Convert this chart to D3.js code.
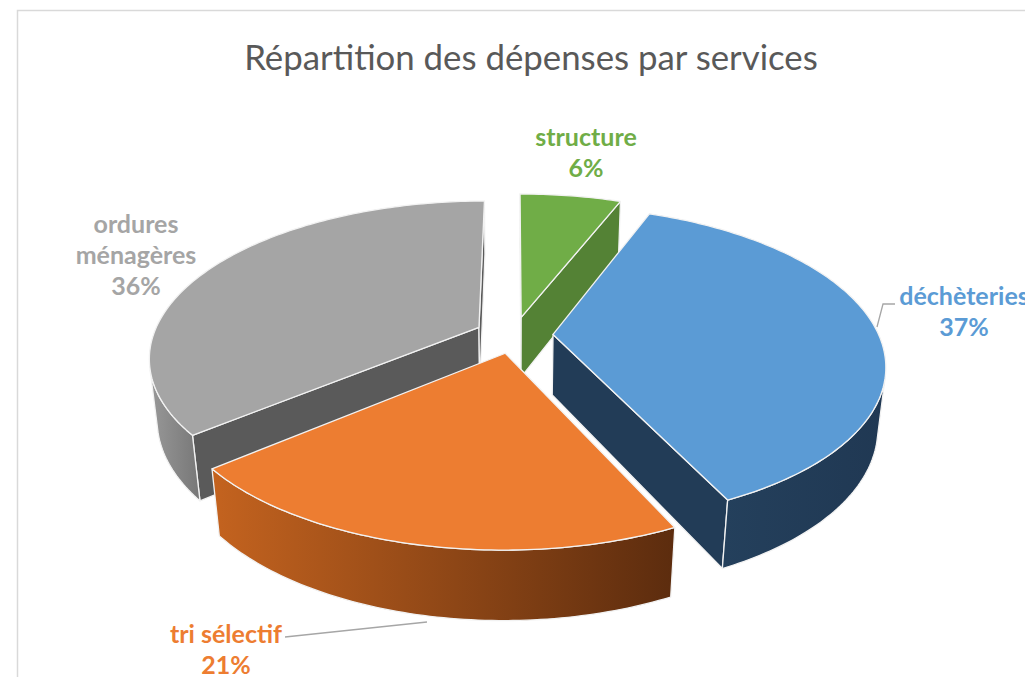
<!DOCTYPE html>
<html>
<head>
<meta charset="utf-8">
<script src="https://cdn.jsdelivr.net/npm/d3@7"></script>
<style>
  body { margin: 0; background: #fff; }
  svg { display: block; }
</style>
</head>
<body>
<div id="chart"></div>
<script>
// data
const categories = ["structure", "déchèteries", "tri sélectif", "ordures ménagères"];
const values = [6, 37, 21, 36];
const labelLines = [["structure", "6%"], ["déchèteries", "37%"], ["tri sélectif", "21%"], ["ordures", "ménagères", "36%"]];
const topColors = ["#70AD47", "#5B9BD5", "#ED7D31", "#A5A5A5"];
const faceColors = ["#548235", "#223C57", "#8a4519", "#5A5A5A"];
const wallColors = [["#5f8f3c", "#4d7630"], ["#24405c", "#203853"], ["#c4631f", "#5c2c0e"], ["#989898", "#777777"]];
const labelColors = ["#70AD47", "#5B9BD5", "#ED7D31", "#A5A5A5"];

const width = 1025, height = 677;

// 3D view settings
const alpha = 27.9 * Math.PI / 180;
const D = 4.74, f = 1544, R = 1, explode = 0.12, depth = 0.215;
const cx = 514, cy = 335;
const cam = [0, -D * Math.cos(alpha), D * Math.sin(alpha)];

function proj(u, v, w) {
    const yc = v * Math.sin(alpha) + w * Math.cos(alpha);
    const zc = D + v * Math.cos(alpha) - w * Math.sin(alpha);
    return [cx + f * u / zc, cy - f * yc / zc];
}

const svg = d3.select("#chart").append("svg")
    .attr("width", width)
    .attr("height", height);

const defs = svg.append("defs");

// chart border
svg.append("rect")
    .attr("x", 17.5).attr("y", 10.5)
    .attr("width", 1100).attr("height", 800)
    .attr("fill", "none")
    .attr("stroke", "#d9d9d9")
    .attr("stroke-width", 1.5);

svg.append("text")
    .attr("x", 531)
    .attr("y", 70)
    .attr("text-anchor", "middle")
    .attr("font-family", "Lato, 'Open Sans', sans-serif")
    .attr("font-size", 34.8)
    .attr("fill", "#595959")
    .text("Répartition des dépenses par services");

const pie = d3.pie().sort(null).value(d => d);
const arcs = pie(values);

const line = d3.line().curve(d3.curveLinearClosed);

function area(pts) {
    let s = 0;
    for (let i = 0; i < pts.length; i++) {
        const a = pts[i], b = pts[(i + 1) % pts.length];
        s += a[0] * b[1] - b[0] * a[1];
    }
    return s / 2;
}

const slices = arcs.map((d, i) => {
    const mid = (d.startAngle + d.endAngle) / 2;
    const ou = explode * Math.sin(mid), ov = explode * Math.cos(mid);
    return { d, i, ou, ov };
}).sort((a, b) => b.ov - a.ov);

const gPie = svg.append("g");

slices.forEach(s => {
    const { d, i, ou, ov } = s;
    const a0 = d.startAngle, a1 = d.endAngle;
    const n = Math.max(4, Math.ceil((a1 - a0) / (Math.PI / 180)));
    const thetas = d3.range(n + 1).map(k => a0 + (a1 - a0) * k / n);
    const rim = (t, w) => proj(ou + R * Math.sin(t), ov + R * Math.cos(t), w);
    const apexT = proj(ou, ov, 0), apexB = proj(ou, ov, -depth);

    const g = gPie.append("g");

    // radial faces
    const startFace = [apexT, rim(a0, 0), rim(a0, -depth), apexB];
    const endFace = [apexT, apexB, rim(a1, -depth), rim(a1, 0)];
    [startFace, endFace].forEach(face => {
        if (area(face) < 0) {
            g.append("path")
                .attr("d", line(face))
                .attr("fill", faceColors[i])
                .attr("stroke", "#f2f2f2")
                .attr("stroke-width", 1.3)
                .attr("stroke-linejoin", "round");
        }
    });

    // outer wall, only the part turned to the viewer
    const vis = thetas.filter(t => {
        const pu = ou + R * Math.sin(t), pv = ov + R * Math.cos(t);
        return Math.sin(t) * (cam[0] - pu) + Math.cos(t) * (cam[1] - pv) > 0;
    });
    if (vis.length > 1) {
        const gid = "wall" + i;
        const grad = defs.append("linearGradient").attr("id", gid)
            .attr("x1", 0).attr("x2", 1).attr("y1", 0).attr("y2", 0);
        grad.append("stop").attr("offset", 0).attr("stop-color", wallColors[i][0]);
        grad.append("stop").attr("offset", 1).attr("stop-color", wallColors[i][1]);
        const pts = vis.map(t => rim(t, 0)).concat(vis.slice().reverse().map(t => rim(t, -depth)));
        g.append("path")
            .attr("d", line(pts))
            .attr("fill", `url(#${gid})`)
            .attr("stroke", "#f2f2f2")
            .attr("stroke-width", 1.3)
            .attr("stroke-linejoin", "round");
    }

    // top face
    const topPts = [apexT].concat(thetas.map(t => rim(t, 0)));
    g.append("path")
        .attr("d", line(topPts))
        .attr("fill", topColors[i])
        .attr("stroke", "#f2f2f2")
        .attr("stroke-width", 1.3)
        .attr("stroke-linejoin", "round");
});

// leader lines
const leaders = [[[877, 327], [883, 304], [895, 304]], [[285, 637], [427, 622]]];
svg.append("g").selectAll("path")
    .data(leaders)
    .join("path")
    .attr("d", d3.line())
    .attr("fill", "none")
    .attr("stroke", "#a6a6a6")
    .attr("stroke-width", 1.3);

// labels
const labelPos = [[586, 146], [964, 305], [226, 643], [136, 233]];
const lineGap = 31;
const labels = svg.append("g")
    .attr("font-family", "Lato, 'Open Sans', sans-serif")
    .attr("font-weight", "bold")
    .attr("font-size", 25)
    .attr("text-anchor", "middle");

labelLines.forEach((lines, i) => {
    const t = labels.append("text")
        .attr("fill", labelColors[i]);
    lines.forEach((s, k) => {
        t.append("tspan")
            .attr("x", labelPos[i][0])
            .attr("y", labelPos[i][1] + k * lineGap)
            .text(s);
    });
});
</script>
</body>
</html>
